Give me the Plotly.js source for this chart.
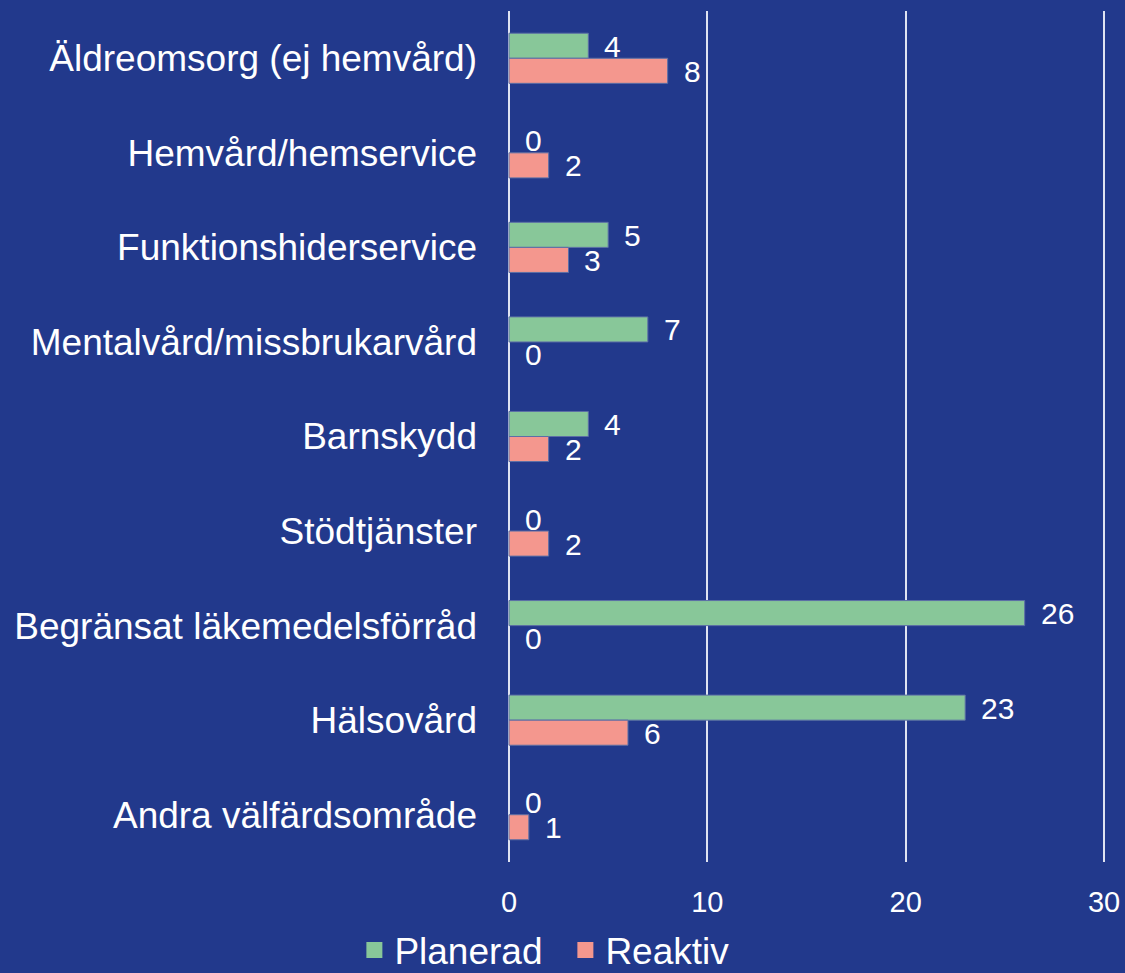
<!DOCTYPE html>
<html>
<head>
<meta charset="utf-8">
<script src="https://cdn.plot.ly/plotly-3.0.1.min.js"></script>
<style>html,body{margin:0;padding:0;background:#22398c;}</style>
</head>
<body>
<div id="chart" style="width:1125px;height:973px;"></div>
<script>
const categories = ["Äldreomsorg (ej hemvård)", "Hemvård/hemservice", "Funktionshiderservice", "Mentalvård/missbrukarvård", "Barnskydd", "Stödtjänster", "Begränsat läkemedelsförråd", "Hälsovård", "Andra välfärdsområde"];
const planerad = [4, 0, 5, 7, 4, 0, 26, 23, 0];
const reaktiv = [8, 2, 3, 0, 2, 2, 0, 6, 1];
const seriesNames = ["Planerad", "Reaktiv"];
const seriesColors = ["#88c799", "#f4978e"];
const xTicks = [0, 10, 20, 30];

const bg = "#22398c";
const font = '"Liberation Sans", Arial, sans-serif';

const traces = [];
[planerad, reaktiv].forEach((arr, si) => {
  traces.push({type: "bar", orientation: "h", name: seriesNames[si], y: categories, x: arr,
    showlegend: false,
    marker: {color: seriesColors[si], line: {color: "#5c6fa6", width: arr.map(v => v === 0 ? 0 : 1)}}});
});
// legend-only entries with larger square symbols
seriesNames.forEach((n, si) => {
  traces.push({type: "scatter", mode: "markers", name: n, x: [null], y: [null],
    marker: {symbol: "square", size: 21, color: seriesColors[si]}, showlegend: true});
});

const annotations = [];
[planerad, reaktiv].forEach((arr, si) => {
  arr.forEach((v, i) => {
    annotations.push({x: v, y: categories[i], xref: "x", yref: "y", text: String(v),
      showarrow: false, xanchor: "left", yanchor: "middle", xshift: 14,
      yshift: si === 0 ? 12 : -13,
      font: {family: font, size: 30, color: "#ffffff"}});
  });
});

const layout = {
  width: 1125, height: 973,
  paper_bgcolor: bg, plot_bgcolor: bg,
  margin: {l: 507, r: 19, t: 11, b: 111, autoexpand: false},
  barmode: "group", bargap: 0.47, bargroupgap: 0,
  font: {family: font, color: "#ffffff"},
  xaxis: {range: [-0.1, 30.1], tickvals: xTicks, showgrid: true, gridcolor: "#dfe3f1", gridwidth: 2,
    zeroline: false, showline: false, ticks: "", ticklabelstandoff: 20, automargin: false,
    tickfont: {family: font, size: 29, color: "#ffffff"}},
  yaxis: {type: "category", autorange: "reversed", showgrid: false, zeroline: false, showline: false,
    ticks: "", ticklabelstandoff: 29, automargin: false, tickfont: {family: font, size: 37, color: "#ffffff"}},
  showlegend: true,
  legend: {orientation: "h", xref: "container", x: 0.315, xanchor: "left", yref: "paper", y: -0.104, yanchor: "middle",
    entrywidth: 166, entrywidthmode: "pixels",
    font: {family: font, size: 37, color: "#ffffff"}, itemwidth: 30, bgcolor: "rgba(0,0,0,0)"},
  annotations: annotations
};

Plotly.newPlot("chart", traces, layout, {displayModeBar: false, staticPlot: true});
</script>
</body>
</html>
